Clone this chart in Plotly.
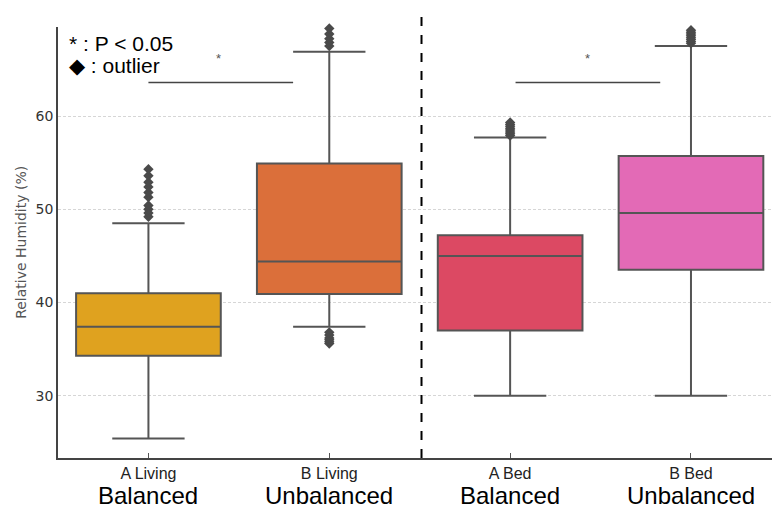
import plotly.graph_objects as go

# ---- data ----
groups = ["A Living", "B Living", "A Bed", "B Bed"]
conditions = ["Balanced", "Unbalanced", "Balanced", "Unbalanced"]
positions = [0, 1, 2, 3]
q1 = [34.3, 40.9, 37.0, 43.5]
median = [37.4, 44.4, 45.0, 49.6]
q3 = [41.0, 54.9, 47.2, 55.7]
lower_whisker = [25.4, 37.4, 30.0, 30.0]
upper_whisker = [48.5, 66.9, 57.7, 67.5]
outliers = [
    [49.2, 49.6, 50.0, 50.4, 51.3, 51.8, 52.4, 52.9, 53.6, 54.3],
    [35.6, 35.8, 36.0, 36.2, 36.5, 36.8, 67.5, 67.9, 68.3, 68.8, 69.4, 70.1, 70.7],
    [57.9, 58.1, 58.3, 58.5, 58.7, 58.9, 59.1, 59.3],
    [67.8, 68.0, 68.2, 68.4, 68.6, 68.8, 69.0, 69.2],
]
colors = ["#DFA21F", "#DB6F3A", "#DC4963", "#E36AB6"]
yticks = [30, 40, 50, 60]
sig_pairs = [(0, 0.8, 63.6, 0.39), (2.03, 2.83, 63.6, 2.43)]
divider_x = 1.51

line_col = "#555555"
sans = "Liberation Sans, Arial, sans-serif"
dv = "DejaVu Sans, sans-serif"
fig = go.Figure()

for i in range(len(groups)):
    fig.add_trace(go.Box(
        x=[positions[i]], q1=[q1[i]], median=[median[i]], q3=[q3[i]],
        lowerfence=[lower_whisker[i]], upperfence=[upper_whisker[i]],
        width=0.8, whiskerwidth=0.5, fillcolor=colors[i],
        line=dict(color=line_col, width=2), boxpoints=False,
        showlegend=False, hoverinfo="skip",
    ))
    fig.add_trace(go.Scatter(
        x=[positions[i]] * len(outliers[i]), y=outliers[i], mode="markers",
        marker=dict(symbol="diamond", size=8, color="#4a4a4a"),
        cliponaxis=False, showlegend=False, hoverinfo="skip",
    ))

# significance brackets
for x0, x1, yv, xs in sig_pairs:
    fig.add_shape(type="line", x0=x0, x1=x1, y0=yv, y1=yv, xref="x", yref="y",
                  line=dict(color="#444444", width=1.5))
    fig.add_annotation(x=xs, y=yv + 2.6, text="*", showarrow=False,
                       font=dict(size=13, color="#555555", family=sans),
                       xref="x", yref="y")

# divider
fig.add_shape(type="line", x0=divider_x, x1=divider_x, y0=0, y1=1.04, xref="x", yref="paper",
              line=dict(color="black", width=2, dash="dash"))

# legend text
fig.add_annotation(x=0.012, y=0.961, xref="paper", yref="paper", xanchor="left", yanchor="middle",
                   text="* : P < 0.05", showarrow=False,
                   font=dict(size=21, color="black", family=sans))
fig.add_annotation(x=0.012, y=0.91, xref="paper", yref="paper", xanchor="left", yanchor="middle",
                   text="◆ : outlier", showarrow=False,
                   font=dict(size=21, color="black", family=sans))

# condition labels (second row)
for i in range(len(groups)):
    fig.add_annotation(x=positions[i], y=-0.0875, xref="x", yref="paper", yanchor="middle",
                       text=conditions[i], showarrow=False,
                       font=dict(size=24, color="black", family=sans))

# y title
fig.add_annotation(x=-0.052, y=(458 - 242) / 431, xref="paper", yref="paper",
                   xanchor="center", yanchor="middle", textangle=-90,
                   text="Relative Humidity (%)", showarrow=False,
                   font=dict(size=14, color="#555555", family=dv))

fig.update_layout(
    width=772, height=513, margin=dict(l=58, r=0, t=27, b=55),
    plot_bgcolor="white", paper_bgcolor="white",
    font=dict(family=sans, color="#333333"),
    xaxis=dict(range=[-0.5, 3.448], tickvals=positions, ticktext=groups,
               ticks="inside", ticklen=5, tickcolor="#555555", showgrid=False,
               showline=True, linecolor="#444444", linewidth=1.5,
               tickfont=dict(size=16, color="#222222", family=sans), zeroline=False),
    yaxis=dict(range=[23.32, 69.55], tickvals=yticks, ticks="", showgrid=True,
               gridcolor="#d6d6d6", griddash="3px,2px", gridwidth=1,
               showline=True, linecolor="#444444", linewidth=1.5,
               tickfont=dict(size=14, color="#333333", family=dv), zeroline=False),
)

fig.write_html("out.html")
